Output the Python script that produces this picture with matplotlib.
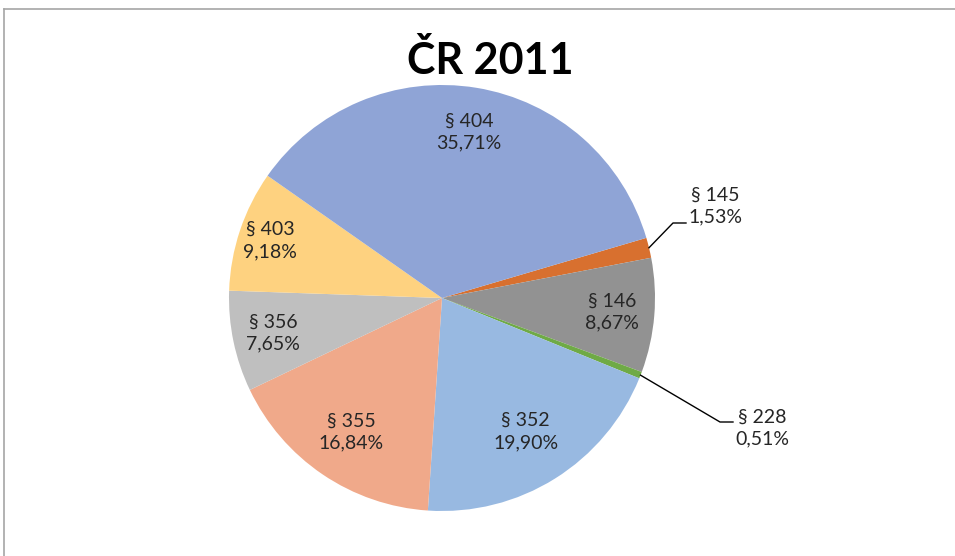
import numpy as np
import matplotlib
matplotlib.use("Agg")
import matplotlib.pyplot as plt
from matplotlib.lines import Line2D

plt.rcParams['font.family'] = ['Lato', 'DejaVu Sans']

# data
labels = ['§ 145', '§ 146', '§ 228', '§ 352', '§ 355', '§ 356', '§ 403', '§ 404']
shares = [1.53, 8.67, 0.51, 19.90, 16.84, 7.65, 9.18, 35.71]
colors = ['#D8702F', '#929292', '#6FAA46', '#98B9E1', '#F0A98A', '#BFBFBF', '#FED280', '#8FA4D6']
# how far from the centre each inside label sits (fraction of radius)
label_r = [None, 0.80, None, 0.74, 0.76, 0.81, 0.85, 0.79]

fig = plt.figure(figsize=(9.55, 5.56), dpi=100)
ax = fig.add_axes([0, 0, 1, 1])

# centre of pie at pixel (442, 298), radius 213 px
R = 213.0
cx, cy = 442.0, 298.0

# first slice begins 73.6 deg clockwise from 12 o'clock
start = 90 - 73.6
wedges, _ = ax.pie(shares, colors=colors, startangle=start, counterclock=False,
                   radius=1.0, center=(0, 0), frame=True,
                   wedgeprops=dict(linewidth=0))
ax.set_xlim(-cx / R, (955 - cx) / R)
ax.set_ylim(-(556 - cy) / R, cy / R)
ax.set_aspect('equal')
ax.axis('off')

def px(x, y):
    return (x - cx) / R, (cy - y) / R

txt_kw = dict(fontsize=14, color='#262626', ha='center', va='center', linespacing=1.35)

for w, lab, val, r in zip(wedges, labels, shares, label_r):
    mid = np.deg2rad((w.theta1 + w.theta2) / 2)
    text = f"{lab}\n{val:.2f}%".replace('.', ',')
    if r is not None:
        ax.text(r * np.cos(mid), r * np.sin(mid), text, **txt_kw)
    else:
        ex, ey = np.cos(mid), np.sin(mid)
        if lab == '§ 145':
            bx, by = px(673, 223)
            hx, hy = px(686, 223)
            tx, ty = px(715, 206)
        else:
            bx, by = px(720, 422)
            hx, hy = px(733, 422)
            tx, ty = px(762, 428)
        ax.plot([ex, bx, hx], [ey, by, hy], color='black', linewidth=1)
        ax.text(tx, ty, text, **txt_kw)

fig.text(490 / 955, 1 - 60 / 556, 'ČR 2011', fontsize=31, fontweight='bold',
         ha='center', va='center', color='black')

# chart area border (top and left edges visible)
fig.add_artist(Line2D([4 / 955, 1], [1 - 9 / 556, 1 - 9 / 556], color='#A6A6A6', linewidth=1.2))
fig.add_artist(Line2D([4 / 955, 4 / 955], [0, 1 - 9 / 556], color='#A6A6A6', linewidth=1.2))

fig.savefig('out.png', dpi=100, facecolor='white')
